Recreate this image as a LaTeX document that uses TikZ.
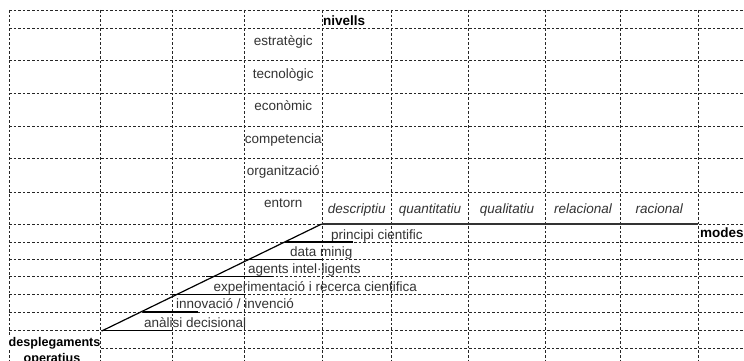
\documentclass[tikz,border=0pt]{standalone}
\usepackage{fontspec}
\setmainfont{Liberation Sans}
\begin{document}
\begin{tikzpicture}[x=1pt,y=-1pt,
  gridline/.style={line width=0.8pt,dash pattern=on 2.6pt off 2pt,black!85},
  lbl/.style={inner sep=0pt,anchor=base,font=\fontsize{13.5}{16}\selectfont,text=black!80},
  lblw/.style={lbl,anchor=base west},
  mode/.style={lbl,font=\fontsize{13.5}{16}\selectfont\itshape},
  hdr/.style={inner sep=0pt,anchor=base west,font=\fontsize{13.5}{16}\selectfont\bfseries},
  hdrs/.style={hdr,font=\fontsize{12.6}{15}\selectfont\bfseries,fill=white},
  bar/.style={line width=1.2pt},
  thickbar/.style={line width=2.2pt,black!80}]
\useasboundingbox (0,0) rectangle (744,361);
\fill[white] (0,0) rectangle (744,361);
% grid
\foreach \y in {10,28.7,60.7,93.3,126,158.7,192,224,242,259.3,276.7,294.5,312,330.7,348.7}
  \draw[gridline] (9,\y) -- (744,\y);
\foreach \x in {9,100,172,244.5,322,391.5,468.5,545.5,620.5,698}
  \draw[gridline] (\x,10) -- (\x,361);
% levels
\node[hdr] (nivells) at (323,25.5) {nivells};
\node[lbl] (estrategic) at (283.25,45.7) {estratègic};
\node[lbl] (tecnologic) at (283.25,78) {tecnològic};
\node[lbl] (economic) at (283.25,110.3) {econòmic};
\node[lbl] (competencia) at (283.25,143) {competencia};
\node[lbl] (organitzacio) at (283.25,175.7) {organització};
\node[lbl] (entorn) at (283.25,207.5) {entorn};
% modes
\node[mode] (descriptiu) at (356.75,213.5) {descriptiu};
\node[mode] (quantitatiu) at (430,213.5) {quantitatiu};
\node[mode] (qualitatiu) at (507,213.5) {qualitatiu};
\node[mode] (relacional) at (583,213.5) {relacional};
\node[mode] (racional) at (659.25,213.5) {racional};
\node[hdr] (modes) at (700,237.5) {modes};
% deployments
\node[lblw] (principi) at (331,239.5) {principi cientific};
\node[lblw] (datamining) at (290,256.5) {data minig};
\node[lblw] (agents) at (248,273.5) {agents intel·ligents};
\node[lblw] (experimentacio) at (213.5,291) {experimentació i recerca cientifica};
\node[lblw] (innovacio) at (176,308.5) {innovació / invenció};
\node[lblw] (analisi) at (144,327) {anàlisi decisional};
\node[hdrs] (desplegaments) at (8.5,346) {desplegaments};
\node[hdrs,anchor=base] (operatius) at (52,362.5) {operatius};
% coordinates of the lines
\coordinate (d0) at (101.7,331);
\coordinate (d1) at (321.7,224);
\coordinate (m1) at (698,224);
\coordinate (a0) at (285,242);   \coordinate (a1) at (353,242);
\coordinate (b0) at (245,259.3); \coordinate (b1) at (321.7,259.3);
\coordinate (c0) at (206,276.7); \coordinate (c1) at (273.3,276.7);
\coordinate (e0) at (172.5,294.5); \coordinate (e1) at (244.5,294.5);
\coordinate (f0) at (143,312);   \coordinate (f1) at (198,312);
\coordinate (g0) at (101.7,330.7); \coordinate (g1) at (172,330.7);
\draw[thickbar] (d1) -- (m1);
\draw[bar] (d0) -- (d1);
\draw[bar] (a0) -- (a1);
\draw[bar] (b0) -- (b1);
\draw[bar] (c0) -- (c1);
\draw[bar] (e0) -- (e1);
\draw[bar] (f0) -- (f1);
\draw[bar] (g0) -- (g1);
\end{tikzpicture}
\end{document}
